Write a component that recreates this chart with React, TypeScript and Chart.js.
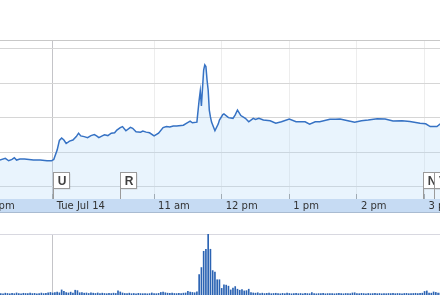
import React, { useEffect, useRef } from 'react';
import { Chart, registerables } from 'chart.js';

Chart.register(...registerables);

// Time axis: minutes relative to Tue Jul 14 open (9:30); the previous session's close sits at 0 too.
const axisTickMinutes = [-60, 0, 90, 150, 210, 270, 330];
const axisTickLabels = ['3 pm', 'Tue Jul 14', '11 am', '12 pm', '1 pm', '2 pm', '3 pm'];
const dayBoundaryMinute = 0;

const priceMinutes = [
  -47, -42, -39, -36, -34, -32, -29, -25, -17, -11, -5, -1,
  1, 4, 6, 8, 10, 12, 15, 18, 21, 23, 25, 28, 31, 34, 37, 39, 41, 44, 46, 49,
  52, 55, 57, 60, 62, 65, 69, 71, 74, 78, 80, 83, 86, 90, 94, 98, 101, 104, 107, 110,
  116, 119, 122, 124, 128, 130, 131, 132, 134, 135, 136, 137, 138, 139, 140, 141,
  144, 147, 148, 151, 152, 156, 160, 162, 164, 167, 171, 174, 178, 180, 183, 187,
  193, 198, 203, 210, 216, 224, 228, 233, 237, 246, 251, 255, 262, 268, 274, 280,
  288, 295, 302, 310, 317, 326, 331, 335, 339, 341, 344, 346,
];
const priceValues = [
  146.78, 146.83, 146.76, 146.8, 146.85, 146.78, 146.81, 146.81, 146.78, 146.78, 146.76, 146.76,
  146.8, 147.07, 147.35, 147.42, 147.36, 147.26, 147.33, 147.36, 147.46, 147.56, 147.48, 147.46,
  147.43, 147.49, 147.52, 147.48, 147.43, 147.48, 147.51, 147.49,
  147.56, 147.57, 147.65, 147.72, 147.75, 147.63, 147.73, 147.7, 147.6, 147.59, 147.62, 147.59,
  147.57, 147.48, 147.56, 147.72, 147.75, 147.74, 147.77, 147.77,
  147.79, 147.85, 147.91, 147.86, 147.88, 148.52, 148.78, 148.35, 149.39, 149.54, 149.49, 149.1,
  148.81, 148.23, 148.03, 147.88,
  147.63, 147.83, 147.94, 148.1, 148.12, 148.01, 147.99, 148.09, 148.23, 148.07, 147.99, 147.89,
  147.99, 147.96, 147.99, 147.94,
  147.92, 147.85, 147.89, 147.97, 147.89, 147.89, 147.82, 147.89, 147.89, 147.96, 147.96, 147.97,
  147.92, 147.88, 147.92, 147.94,
  147.98, 147.97, 147.91, 147.92, 147.9, 147.85, 147.83, 147.75, 147.75, 147.75, 147.83, 147.91,
];
const priceGridValues = [146, 147, 148, 149, 150];

// Volume, 2-minute bars (thousands of shares)
const prevDayVolumeStart = -46;
const prevDayVolume = [14, 12, 18, 15, 12, 16, 13, 20, 14, 12, 17, 15, 13, 18, 14, 16, 12, 15, 19, 14, 17, 22, 25];
const todayVolumeStart = 0;
const volumeStepMinutes = 2;
const todayVolume = [
  20, 25, 28, 22, 50, 37, 25, 20, 28, 18, 47, 43, 22, 25, 18, 20, 15, 22, 18, 15,
  20, 14, 18, 15, 13, 17, 14, 18, 15, 40, 30, 20, 15, 14, 18, 13, 15, 12, 16, 14,
  13, 15, 12, 14, 20, 15, 13, 16, 25, 28, 22, 18, 16, 20, 15, 14, 17, 15, 18, 20,
  35, 28, 25, 22, 30, 200, 270, 430, 450, 600, 450, 240, 225, 150, 150, 65, 100, 97, 87, 50,
  67, 83, 57, 47, 53, 40, 43, 57, 25, 20, 18, 22, 15, 18, 14, 16, 20, 13, 15, 17,
  14, 12, 16, 13, 18, 15, 12, 14, 17, 13, 15, 12, 16, 14, 13, 25, 15, 12, 14, 13,
  16, 12, 14, 13, 15, 12, 14, 16, 13, 12, 15, 14, 13, 20, 22, 15, 13, 16, 14, 12,
  15, 13, 14, 16, 13, 15, 12, 14, 13, 15, 14, 16, 13, 15, 14, 12, 15, 16, 13, 14,
  15, 17, 14, 16, 18, 35, 40, 20, 18, 30, 25, 20, 18,
];

const flagMinutes = [0, 60, 329, 338];
const flagLetters = ['U', 'R', 'N', 'V'];

const X_MIN = -46.7;
const X_MAX = 343.7;
const PRICE_MIN = 145.652;
const PRICE_MAX = 150.26;
const VOLUME_MAX = 600;

const labelFont = { family: '"DejaVu Sans", Verdana, sans-serif', size: 10 };

const zeroPad = (s: any) => {
  s.paddingLeft = 0;
  s.paddingRight = 0;
  s.paddingTop = 0;
  s.paddingBottom = 0;
};

const bandPlugin = {
  id: 'timeBand',
  beforeDraw(chart: any) {
    const { ctx } = chart;
    const xs = chart.scales.x;
    ctx.save();
    ctx.fillStyle = '#c6dbf3';
    ctx.fillRect(0, xs.top, chart.width, xs.bottom - xs.top);
    ctx.fillStyle = '#a9bbd1';
    ctx.fillRect(0, xs.bottom - 1, chart.width, 1);
    ctx.restore();
  },
};

const flagPlugin = {
  id: 'newsFlags',
  afterDraw(chart: any) {
    const { ctx, chartArea } = chart;
    const xs = chart.scales.x;
    const h = 16;
    const w = 16;
    const top = chartArea.bottom - 26.5;
    ctx.save();
    flagMinutes.forEach((m, i) => {
      const x = Math.round(xs.getPixelForValue(m)) + 0.5;
      ctx.fillStyle = 'rgba(0,0,0,0.12)';
      ctx.fillRect(x + 1, top + 1, w, h);
      ctx.fillStyle = '#ffffff';
      ctx.fillRect(x, top, w, h);
      ctx.strokeStyle = '#9a9a9a';
      ctx.lineWidth = 1;
      ctx.strokeRect(x, top, w, h);
      ctx.beginPath();
      ctx.moveTo(x, top + h);
      ctx.lineTo(x, chartArea.bottom);
      ctx.stroke();
      ctx.fillStyle = '#404040';
      ctx.font = 'bold 12px "Liberation Sans", Arial, sans-serif';
      ctx.textAlign = 'center';
      ctx.textBaseline = 'middle';
      ctx.fillText(flagLetters[i], x + w / 2 + 0.5, top + h / 2 + 1);
    });
    ctx.restore();
  },
};

export default function App() {
  const priceRef = useRef<HTMLCanvasElement>(null);
  const volRef = useRef<HTMLCanvasElement>(null);

  useEffect(() => {
    const priceChart = new Chart(priceRef.current as HTMLCanvasElement, {
      type: 'line',
      data: {
        datasets: [
          {
            data: priceMinutes.map((m, i) => ({ x: m, y: priceValues[i] })),
            borderColor: '#3672c4',
            borderWidth: 1.5,
            pointRadius: 0,
            tension: 0,
            fill: 'start',
            backgroundColor: 'rgba(176,214,248,0.28)',
          },
        ],
      },
      options: {
        animation: false,
        responsive: false,
        maintainAspectRatio: false,
        layout: { padding: { top: 40, bottom: 1, left: 0, right: 0 } },
        plugins: { legend: { display: false }, tooltip: { enabled: false } },
        scales: {
          x: {
            type: 'linear',
            min: X_MIN,
            max: X_MAX,
            afterBuildTicks: (s: any) => {
              s.ticks = axisTickMinutes.map((v) => ({ value: v }));
            },
            afterFit: (s: any) => {
              s.height = 14;
              zeroPad(s);
            },
            grid: {
              color: (ctx: any) => (ctx.tick && ctx.tick.value === dayBoundaryMinute ? '#c4c4c8' : '#ededed'),
              tickLength: -5,
              tickColor: '#9a9a9a',
              drawTicks: true,
            },
            border: { display: false },
            ticks: {
              autoSkip: false,
              maxRotation: 0,
              minRotation: 0,
              align: 'start',
              labelOffset: 4,
              padding: 6,
              color: '#333333',
              font: labelFont,
              callback: (v: any) => {
                const idx = axisTickMinutes.indexOf(Number(v));
                return idx >= 0 ? axisTickLabels[idx] : '';
              },
            },
          },
          y: {
            type: 'linear',
            min: PRICE_MIN,
            max: PRICE_MAX,
            afterBuildTicks: (s: any) => {
              s.ticks = [...priceGridValues, PRICE_MAX].map((v) => ({ value: v }));
            },
            afterFit: (s: any) => {
              s.width = 0;
              zeroPad(s);
            },
            ticks: { display: false },
            grid: {
              color: (ctx: any) => (ctx.tick && ctx.tick.value === PRICE_MAX ? '#c8c8c8' : '#d6d6d6'),
              drawTicks: false,
            },
            border: { display: false },
          },
        },
      } as any,
      plugins: [bandPlugin, flagPlugin],
    });

    const volData = [
      ...prevDayVolume.map((v, i) => ({ x: prevDayVolumeStart + i * volumeStepMinutes, y: v })),
      ...todayVolume.map((v, i) => ({ x: todayVolumeStart + i * volumeStepMinutes, y: v })),
    ];

    const volChart = new Chart(volRef.current as HTMLCanvasElement, {
      type: 'bar',
      data: {
        datasets: [
          {
            data: volData,
            backgroundColor: '#2b63b3',
            borderWidth: 0,
            barThickness: 1,
            grouped: false,
          } as any,
        ],
      },
      options: {
        animation: false,
        responsive: false,
        maintainAspectRatio: false,
        layout: { padding: { top: 20, bottom: 0, left: 0, right: 0 } },
        plugins: { legend: { display: false }, tooltip: { enabled: false } },
        scales: {
          x: {
            type: 'linear',
            min: X_MIN,
            max: X_MAX,
            offset: false,
            afterBuildTicks: (s: any) => {
              s.ticks = [{ value: dayBoundaryMinute }];
            },
            afterFit: (s: any) => {
              s.height = 0;
              zeroPad(s);
            },
            ticks: { display: false },
            grid: { color: '#c4c4c8', drawTicks: false, offset: false },
            border: { display: false },
          },
          y: {
            type: 'linear',
            min: 0,
            max: VOLUME_MAX,
            afterBuildTicks: (s: any) => {
              s.ticks = [{ value: VOLUME_MAX }];
            },
            afterFit: (s: any) => {
              s.width = 0;
              zeroPad(s);
            },
            ticks: { display: false },
            grid: { color: '#d8d8e0', drawTicks: false },
            border: { display: false },
          },
        },
      } as any,
    });

    return () => {
      priceChart.destroy();
      volChart.destroy();
    };
  }, []);

  return (
    <div style={{ position: 'fixed', left: 0, top: 0, width: 440, height: 295, background: '#ffffff', overflow: 'hidden' }}>
      <canvas ref={priceRef} width={440} height={214} style={{ position: 'absolute', left: 0, top: 0, width: 440, height: 214 }} />
      <canvas ref={volRef} width={440} height={81} style={{ position: 'absolute', left: 0, top: 214, width: 440, height: 81 }} />
    </div>
  );
}
